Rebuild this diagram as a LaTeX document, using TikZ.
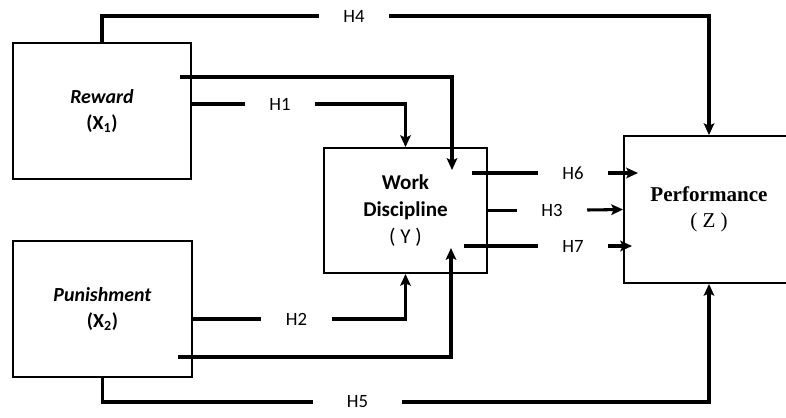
\documentclass[tikz,border=0pt]{standalone}
\usepackage{fontspec}
\setmainfont{Carlito}
\newfontfamily\timesfont{Liberation Serif}
\usepackage{tikz}
\usetikzlibrary{arrows.meta}

\tikzset{
  varbox/.style={draw, line width=1.6pt, align=center, inner sep=0pt},
  hlab/.style={font=\fontsize{16}{17}\selectfont, minimum width=2.1cm, minimum height=0.6cm, inner sep=0pt},
  link/.style={line width=2.6pt},
  arr/.style={line width=2.6pt, -{Stealth[length=10pt,width=9pt,inset=2pt]}}
}

\begin{document}
\begin{tikzpicture}[x=0.03cm,y=-0.03cm]
    \useasboundingbox (0,0) rectangle (786,417);
    % variables
    \node[varbox, minimum width=5.34cm, minimum height=4.08cm, font=\fontsize{17}{22}\selectfont] (rw) at (102,111) {\textbf{\textit{Reward}}\\\textbf{(X\textsubscript{1})}};
    \node[varbox, minimum width=5.37cm, minimum height=4.08cm, font=\fontsize{17}{22}\selectfont] (pn) at (102.5,309) {\textbf{\textit{Punishment}}\\\textbf{(X\textsubscript{2})}};
    \node[varbox, minimum width=4.89cm, minimum height=3.75cm, font=\fontsize{18}{23}\selectfont] (wd) at (405.5,210.5) {\textbf{Work}\\\textbf{Discipline}\\( Y )};
    \node[varbox, minimum width=5.1cm, minimum height=4.41cm, font=\fontsize{18}{22}\selectfont\timesfont] (pf) at (709,209.5) {\textbf{Performance}\\( Z )};
    % hypothesis labels
    \node[hlab] (h4) at (354,16) {H4};
    \node[hlab] (h1) at (280,104) {H1};
    \node[hlab] (h2) at (296.5,319) {H2};
    \node[hlab, minimum width=2.67cm] (h5) at (357.5,402) {H5};
    \node[hlab] (h6) at (573,173) {H6};
    \node[hlab] (h3) at (552,210.5) {H3};
    \node[hlab] (h7) at (573,246) {H7};
    % free ends
    \coordinate (rwout) at (180,77);
    \coordinate (wdin1) at (452,170);
    \coordinate (pnout) at (178,357);
    \coordinate (wdin2) at (451,248);
    \coordinate (wdout6) at (472,173);
    \coordinate (pfin6) at (638,173);
    \coordinate (wdout7) at (464,246);
    \coordinate (pfin7) at (632,246);
    % connectors
    \draw[link] (rw.north) |- (h4);
    \draw[arr] (h4) -| (pf.north);
    \draw[link] (rw.east |- h1) -- (h1);
    \draw[arr] (h1) -| (wd.north);
    \draw[arr] (rwout) -| (wdin1);
    \draw[link] (pn.east |- h2) -- (h2);
    \draw[arr] (h2) -| (wd.south);
    \draw[arr] (pnout) -| (wdin2);
    \draw[link] (pn.south) |- (h5);
    \draw[arr] (h5) -| (pf.south);
    \draw[link] (wdout6) -- (h6);
    \draw[arr] (h6) -- (pfin6);
    \draw[link] (wd.east) -- (h3);
    \draw[arr] (h3) -- (pf.west);
    \draw[link] (wdout7) -- (h7);
    \draw[arr] (h7) -- (pfin7);
\end{tikzpicture}
\end{document}
